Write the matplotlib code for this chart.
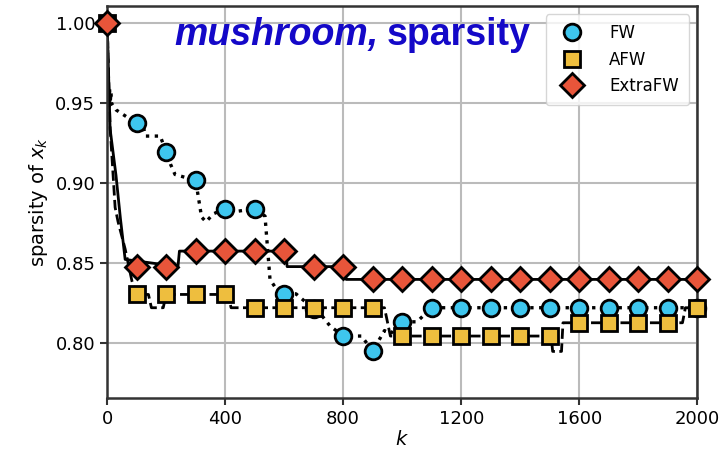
import matplotlib.pyplot as plt

# marker samples (every 100 iterations)
k_marks = [0, 100, 200, 300, 400, 500, 600, 700, 800, 900, 1000,
           1100, 1200, 1300, 1400, 1500, 1600, 1700, 1800, 1900, 2000]
fw_marks = [1.0, 0.9375, 0.9196, 0.9019, 0.8842, 0.8842, 0.831, 0.8215, 0.8046, 0.7952, 0.8135,
            0.8223, 0.8223, 0.8223, 0.8223, 0.8223, 0.8223, 0.8223, 0.8223, 0.8223, 0.8223]
afw_marks = [1.0, 0.8306, 0.8306, 0.8306, 0.8306, 0.8223, 0.8223, 0.8223, 0.8223, 0.8223, 0.8046,
             0.8046, 0.8046, 0.8046, 0.8046, 0.8046, 0.8129, 0.8129, 0.8129, 0.8129, 0.8223]
efw_marks = [1.0, 0.848, 0.848, 0.8577, 0.8577, 0.8577, 0.8577, 0.848, 0.848, 0.84, 0.84,
             0.84, 0.84, 0.84, 0.84, 0.84, 0.84, 0.84, 0.84, 0.84, 0.84]

# full iteration curves
fw_k = [0, 3, 5, 8, 10, 13, 15, 30, 100, 120, 130, 180, 200, 215, 230, 300, 320, 335,
        360, 400, 420, 500, 535, 552, 570, 600, 640, 700, 721, 755, 800, 862, 900,
        940, 960, 1000, 1050, 1100, 2000]
fw_y = [1.0, 0.962, 0.953, 0.960, 0.950, 0.957, 0.950, 0.946, 0.9375, 0.9375, 0.9296, 0.9296,
        0.9196, 0.9119, 0.9056, 0.9019, 0.879, 0.876, 0.881, 0.8842, 0.882, 0.8842, 0.8796,
        0.84, 0.835, 0.831, 0.831, 0.8215, 0.819, 0.811, 0.8046, 0.8046, 0.7952,
        0.808, 0.806, 0.8135, 0.8135, 0.8223, 0.8223]

afw_k = [0, 10, 27, 37, 61, 84, 100, 140, 150, 190, 200, 410, 420, 940, 960, 1000,
         1505, 1510, 1540, 1545, 1950, 1960, 2000]
afw_y = [1.0, 0.935, 0.885, 0.876, 0.859, 0.839, 0.8306, 0.8306, 0.8223, 0.8223, 0.8306,
         0.8306, 0.8223, 0.8223, 0.8046, 0.8046, 0.8046, 0.795, 0.795, 0.8129, 0.8129,
         0.8223, 0.8223]

efw_k = [0, 10, 30, 45, 61, 240, 245, 605, 610, 805, 810, 2000]
efw_y = [1.0, 0.934, 0.905, 0.878, 0.8525, 0.848, 0.8577, 0.8577, 0.848, 0.848, 0.84, 0.84]

fw_color = '#3EC6EE'
afw_color = '#EEBE3E'
efw_color = '#E8553A'

fig, ax = plt.subplots(figsize=(7.24, 4.5), dpi=100)
fig.subplots_adjust(left=0.148, right=0.963, top=0.987, bottom=0.116)

ax.plot(fw_k, fw_y, color='black', linestyle=':', linewidth=2.4, zorder=2)
ax.plot(afw_k, afw_y, color='black', linestyle='--', linewidth=2.0, zorder=2)
ax.plot(efw_k, efw_y, color='black', linestyle='-', linewidth=2.0, zorder=2)

ax.plot(k_marks, fw_marks, linestyle='none', marker='o', markersize=12,
        markerfacecolor=fw_color, markeredgecolor='black', markeredgewidth=2,
        label='FW', zorder=3, clip_on=False)
ax.plot(k_marks, afw_marks, linestyle='none', marker='s', markersize=11,
        markerfacecolor=afw_color, markeredgecolor='black', markeredgewidth=2,
        label='AFW', zorder=4, clip_on=False)
ax.plot(k_marks, efw_marks, linestyle='none', marker='D', markersize=12,
        markerfacecolor=efw_color, markeredgecolor='black', markeredgewidth=2,
        label='ExtraFW', zorder=5, clip_on=False)

ax.set_xlim(0, 2000)
ax.set_ylim(0.766, 1.011)
ax.set_xticks([0, 400, 800, 1200, 1600, 2000])
ax.set_yticks([0.80, 0.85, 0.90, 0.95, 1.00])
ax.tick_params(labelsize=13, width=1.5, length=5, color='#333333')
ax.grid(color='#BBBBBB', linewidth=1.5)
ax.set_axisbelow(True)
for sp in ax.spines.values():
    sp.set_linewidth(1.8)
    sp.set_color('#333333')

ax.set_xlabel('$k$', fontsize=14, labelpad=2)
ax.set_ylabel('sparsity of $x_k$', fontsize=14)

ax.legend(loc='upper right', fontsize=12, borderpad=0.6, handletextpad=1.2)

fig.text(378 / 724, 0.9, 'mushroom,', ha='right', va='baseline', fontsize=27,
         fontweight='bold', fontstyle='italic', family='Liberation Sans', color='#1408C8')
fig.text(387 / 724, 0.9, 'sparsity', ha='left', va='baseline', fontsize=27,
         fontweight='bold', family='Liberation Sans', color='#1408C8')

fig.savefig('out.png', dpi=100)
